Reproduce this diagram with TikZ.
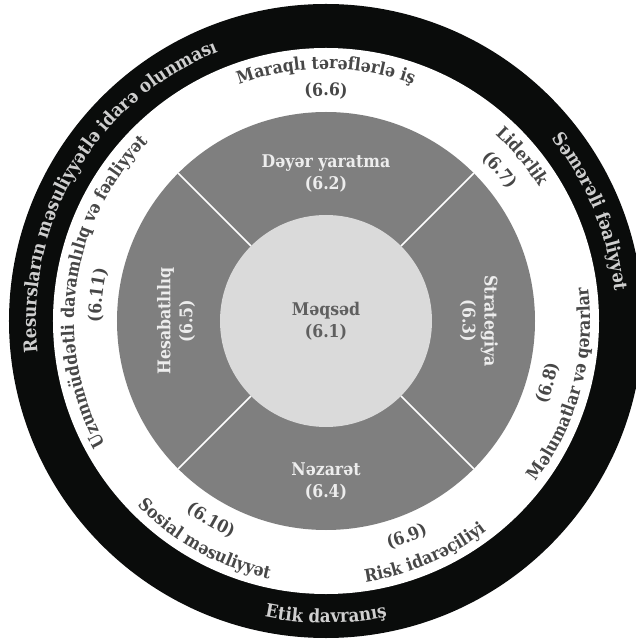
\documentclass[tikz,border=0pt]{standalone}
\usepackage{fontspec}
\setmainfont{DejaVu Serif}[FakeStretch=0.9]
\usetikzlibrary{decorations.text}
\definecolor{rim}{HTML}{0A0C0B}
\definecolor{band}{HTML}{7F7F7F}
\definecolor{core}{HTML}{DADADA}
\definecolor{ink}{HTML}{474747}
\definecolor{rimink}{HTML}{CFCFCF}
\definecolor{bandink}{HTML}{EDEDED}
\definecolor{coreink}{HTML}{5F5F5F}
\newcommand\ringfont{\fontsize{17.5}{17.5}\selectfont\bfseries}
\newcommand\rimfont{\fontsize{18.5}{18.5}\selectfont\bfseries}
\tikzset{
  outlabel/.style={decorate,decoration={text along path,text align=center,text color=ink,text={|\ringfont|#1}}},
  rimlabel/.style={decorate,decoration={text along path,text align=center,text color=rimink,text={|\rimfont|#1}}},
  sectorlabel/.style={align=center,text=bandink,font=\fontsize{17.5}{22}\selectfont\bfseries}
}

\begin{document}
\begin{tikzpicture}[x=1pt,y=1pt]
\def\rout{317}\def\rin{273}\def\rband{209}\def\rcore{106}
\useasboundingbox (-326,-318) rectangle (309,321);
\fill[white] (-326,-318) rectangle (309,321);
% rings
\fill[rim] (0,0) circle[radius=\rout];
\fill[white] (0,0) circle[radius=\rin];
\fill[band] (0,0) circle[radius=\rband];
\foreach \a in {45,135,225,315}
  \draw[white,line width=1.6pt] (\a:\rcore) -- (\a:\rband);
\node[circle,fill=core,minimum size=212pt,inner sep=0pt,align=center,text=coreink,font=\fontsize{17.5}{22}\selectfont\bfseries] (goal) at (0,0) {Məqsəd\\(6.1)};
% four sectors
\node[sectorlabel] (value) at (0,148) {Dəyər yaratma\\(6.2)};
\node[sectorlabel,rotate=-90] (strategy) at (153,0) {Strategiya\\(6.3)};
\node[sectorlabel] (control) at (0,-160) {Nəzarət\\(6.4)};
\node[sectorlabel,rotate=90] (account) at (-150,0) {Hesabatlılıq\\(6.5)};
% white ring, upper half
\path[outlabel={Maraqlı tərəflərlə iş}] (150:252) arc[start angle=150,end angle=30,radius=252];
\path[outlabel={(6.6)}] (110:225) arc[start angle=110,end angle=70,radius=225];
\path[outlabel={Liderlik}] (70:252) arc[start angle=70,end angle=10,radius=252];
\path[outlabel={(6.7)}] (61:225) arc[start angle=61,end angle=21,radius=225];
\path[outlabel={Uzunmüddətli davamlılıq və fəaliyyət}] (232:252) arc[start angle=232,end angle=112,radius=252];
\path[outlabel={(6.11)}] (193.5:225) arc[start angle=193.5,end angle=153.5,radius=225];
% white ring, lower half
\path[outlabel={Məlumatlar və qərarlar}] (-75:264) arc[start angle=-75,end angle=45,radius=264];
\path[outlabel={(6.8)}] (-35.6:236) arc[start angle=-35.6,end angle=4.4,radius=236];
\path[outlabel={Risk idarəçiliyi}] (-117:264) arc[start angle=-117,end angle=-17,radius=264];
\path[outlabel={(6.9)}] (-89.5:236) arc[start angle=-89.5,end angle=-49.5,radius=236];
\path[outlabel={Sosial məsuliyyət}] (-169:264) arc[start angle=-169,end angle=-69,radius=264];
\path[outlabel={(6.10)}] (-140:236) arc[start angle=-140,end angle=-100,radius=236];
% black rim
\path[rimlabel={Resursların məsuliyyətlə idarə olunması}] (209:290) arc[start angle=209,end angle=89,radius=290];
\path[rimlabel={Səmərəli fəaliyyət}] (62.4:290) arc[start angle=62.4,end angle=-17.6,radius=290];
\path[rimlabel={Etik davranış}] (-130:302) arc[start angle=-130,end angle=-50,radius=302];
\end{tikzpicture}
\end{document}
